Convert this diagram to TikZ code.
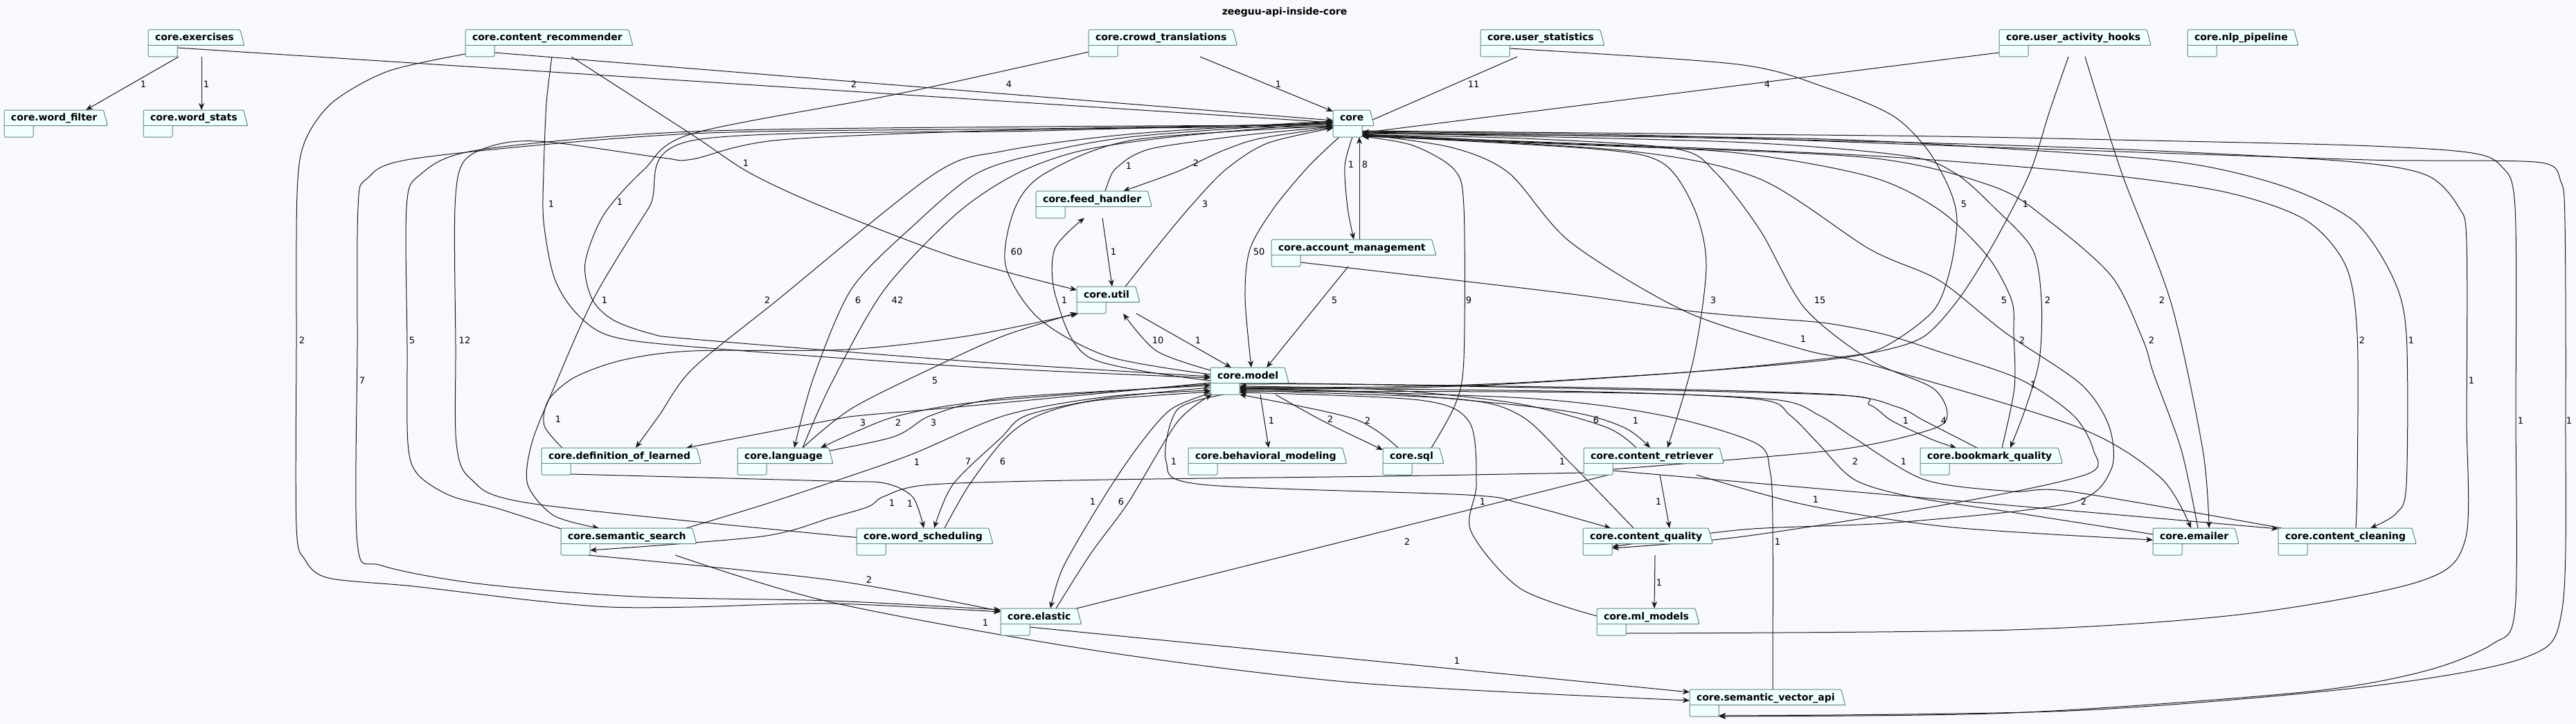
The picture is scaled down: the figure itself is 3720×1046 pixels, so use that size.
\documentclass[tikz,border=0pt]{standalone}
\usepackage{fontspec}
\setmainfont{DejaVu Sans}
\usetikzlibrary{calc,arrows.meta}
\pgfdeclarelayer{bgl}\pgfdeclarelayer{edgel}\pgfdeclarelayer{pkgl}
\pgfsetlayers{bgl,edgel,pkgl,main}
\definecolor{bgc}{RGB}{248,249,253}
\definecolor{pkfill}{RGB}{240,255,255}
\definecolor{pkline}{RGB}{105,130,130}
\definecolor{ec}{RGB}{24,24,24}
\newcommand{\pkgfnt}{\fontsize{14}{16}\selectfont\bfseries}
\newcommand{\lblfnt}{\fontsize{13}{15}\selectfont}
\newlength\pkgw
\tikzset{
 pkgbox/.style={rectangle,minimum height=39pt,inner sep=0pt,outer sep=0pt,draw=none},
 pkgtxt/.style={inner sep=0pt,outer sep=0pt,font=\pkgfnt,text=black},
 pkgline/.style={draw=pkline,fill=pkfill,line width=1pt,rounded corners=1.5pt},
 pkgsep/.style={draw=pkline,line width=1pt},
 dep/.style={draw=ec,line width=1pt,-{Stealth[length=10pt,width=8pt,inset=3pt]}},
 lbl/.style={inner sep=0pt,font=\lblfnt,text=black},
 ttl/.style={inner sep=0pt,font=\pkgfnt,text=black},
}
\newcommand{\pkgnode}[4]{%
 \settowidth{\pkgw}{\pkgfnt #4}%
 \addtolength{\pkgw}{42pt}%
 \node[pkgbox,minimum width=\pkgw,anchor=north west] (#1) at (#2,#3) {};
 \node[pkgtxt,anchor=base west] (#1-t) at ($(#1.north west)+(10,16)$) {#4};
 \begin{pgfonlayer}{pkgl}
 \draw[pkgline] (#1.north west) -- ($(#1-t.base east |- #1.north)+(9,0)$) -- ($(#1-t.base east |- #1.north)+(15,22.5)$) -- ($(#1.north east)+(0,22.5)$) -- (#1.south east) -- (#1.south west) -- cycle;
 \draw[pkgsep] ($(#1.north west)+(0,22.5)$) -- ($(#1-t.base east |- #1.north)+(15,22.5)$);
 \end{pgfonlayer}
}
\begin{document}
\begin{tikzpicture}[x=1pt,y=-1pt]
\begin{pgfonlayer}{bgl}
\fill[bgc] (0,0) rectangle (3720,1046);
\end{pgfonlayer}
\useasboundingbox (0,0) rectangle (3720,1046);
\node[ttl] (title) at (1855,18) {zeeguu-api-inside-core};
\pkgnode{ex}{214}{43}{core.exercises}
\pkgnode{wf}{6}{159}{core.word\_filter}
\pkgnode{wst}{207}{159}{core.word\_stats}
\pkgnode{crec}{672}{43}{core.content\_recommender}
\pkgnode{ctr}{1572}{43}{core.crowd\_translations}
\pkgnode{core}{1925}{159}{core}
\pkgnode{ust}{2138}{43}{core.user\_statistics}
\pkgnode{uah}{2887}{43}{core.user\_activity\_hooks}
\pkgnode{nlp}{3159}{43}{core.nlp\_pipeline}
\pkgnode{fh}{1496}{276}{core.feed\_handler}
\pkgnode{util}{1555}{414}{core.util}
\pkgnode{am}{1836}{346}{core.account\_management}
\pkgnode{model}{1748}{531}{core.model}
\pkgnode{dol}{782}{647}{core.definition\_of\_learned}
\pkgnode{lang}{1065}{647}{core.language}
\pkgnode{bm}{1716}{647}{core.behavioral\_modeling}
\pkgnode{sql}{1997}{647}{core.sql}
\pkgnode{ret}{2287}{647}{core.content\_retriever}
\pkgnode{bq}{2773}{647}{core.bookmark\_quality}
\pkgnode{ss}{810}{763}{core.semantic\_search}
\pkgnode{wsch}{1237}{763}{core.word\_scheduling}
\pkgnode{cq}{2286}{763}{core.content\_quality}
\pkgnode{em}{3109}{763}{core.emailer}
\pkgnode{cc}{3290}{763}{core.content\_cleaning}
\pkgnode{el}{1445}{879}{core.elastic}
\pkgnode{ml}{2306}{879}{core.ml\_models}
\pkgnode{sva}{2440}{996}{core.semantic\_vector\_api}

\begin{pgfonlayer}{edgel}
% top
\draw[dep] ($(ex.north west)+(44,39)$) -- ($(wf.north west)+(118,0)$);
\draw[dep] ($(ex.north west)+(77,39)$) -- ($(wst.north west)+(84,0)$);
\draw[dep] ($(ex.north east)+(0,26)$) -- ($(core.north west)+(0,18)$);
\draw[dep] ($(crec.north east)+(0,33)$) -- ($(core.north west)+(0,15)$);
\draw[dep] ($(ctr.north west)+(161,39)$) -- ($(core.north west)+(0,2)$);
\draw[dep] ($(ust.north west)+(53,39)$) -- ($(core.north east)+(-3,22)$);
\draw[dep] ($(uah.north west)+(0,33)$) -- ($(core.north east)+(0,33)$);
\draw[dep] plot[smooth,tension=.5] coordinates {($(ust.north east)+(0,27)$) (2510,93) (2638,127) (2733,167) (2784,217) (2816,275) (2826,320) (2816,390) (2791,450) (2717,503) (2638,520) (2446,537) (2191,553) (2000,559) ($(model.north east)+(0,29)$)};
\draw[dep] plot[smooth,tension=.5] coordinates {($(uah.north west)+(100,39)$) (2960,160) (2931,250) (2880,350) (2830,430) (2780,485) (2721,506) (2638,518) (2446,537) (2191,554) (2000,561) ($(model.north east)+(0,31)$)};
\draw[dep] plot[smooth,tension=.5] coordinates {($(crec.north west)+(125,39)$) (789,150) (785,250) (785,320) (800,400) (830,450) (880,485) (1000,501) (1400,530) ($(model.north west)+(0,15)$)};
\draw[dep] plot[smooth,tension=.5] coordinates {($(ctr.north west)+(0,32)$) (1300,135) (1000,193) (930,245) (872,310) (845,380) (855,432) (885,462) (940,482) (1000,490) (1400,522) ($(model.north west)+(0,13)$)};
\draw[dep] plot[smooth,tension=.5] coordinates {($(crec.north west)+(153,39)$) (1000,195) (1083,250) (1191,300) (1380,372) ($(util.north west)+(0,5)$)};
% left verticals
\draw[dep] plot[smooth,tension=.5] coordinates {($(crec.north west)+(0,35)$) (560,103) (480,148) (440,205) (429,280) (428,500) (428,760) (440,808) (474,835) (597,847) (765,867) (880,877) (1000,877) (1200,872) ($(el.north west)+(0,5)$)};
\draw[dep] plot[smooth,tension=.5] coordinates {($(core.north west)+(0,20)$) (1500,186) (1000,193) (606,228) (530,258) (517,300) (516,500) (516,785) (551,817) (689,843) (918,862) (1200,868) ($(el.north west)+(0,2)$)};
\draw[dep] plot[smooth,tension=.5] coordinates {($(ss.north west)+(0,1)$) (720,735) (650,716) (603,685) (589,640) (588,500) (587,300) (606,253) (689,217) (1000,190) (1500,183) ($(core.north west)+(0,22)$)};
\draw[dep] plot[smooth,tension=.5] coordinates {($(wsch.north west)+(0,12)$) (1200,773) (765,727) (680,692) (659,640) (658,500) (657,300) (670,233) (721,208) (791,205) (957,228) (1000,230) (1128,202) (1500,187) ($(core.north west)+(0,24)$)};
\draw[dep] plot[smooth,tension=.5] coordinates {($(core.north west)+(0,19)$) (1500,189) (1000,203) (937,300) (858,430) (800,560) (768,640) (762,700) (800,745) ($(ss.north west)+(55,0)$)};
\draw[dep] plot[smooth,tension=.5] coordinates {($(dol.north west)+(30,0)$) (786,615) (792,578) (830,545) (900,520) (1000,507) (1223,505) (1400,485) ($(util.north west)+(2,39)$)};
\draw[dep] plot[smooth,tension=.5] coordinates {($(core.north west)+(0,16)$) (1640,193) (1450,218) (1348,252) (1122,434) (1000,533) (952,600) ($(dol.north west)+(136,0)$)};
\draw[dep] plot[smooth,tension=.5] coordinates {($(core.north west)+(0,17)$) (1640,197) (1500,222) (1408,252) (1320,325) (1230,417) (1175,545) ($(lang.north west)+(82,0)$)};
\draw[dep] plot[smooth,tension=.5] coordinates {($(lang.north west)+(94,0)$) (1200,555) (1276,420) (1380,310) (1466,252) (1560,218) (1700,197) ($(core.north west)+(0,18)$)};
\draw[dep] plot[smooth,tension=.5] coordinates {($(model.north west)+(0,10)$) (1600,515) (1500,460) (1452,383) (1466,300) (1510,250) (1638,202) ($(core.north west)+(0,23)$)};
% center
\draw[dep] plot[smooth,tension=.5] coordinates {($(fh.north west)+(100,0)$) (1606,250) (1620,236) (1640,223) (1676,212) (1800,195) ($(core.north west)+(0,24)$)};
\draw[dep] plot[smooth,tension=.5] coordinates {($(core.north west)+(0,25)$) (1820,200) (1765,218) (1700,248) ($(fh.north west)+(126,0)$)};
\draw[dep] ($(fh.north west)+(96,39)$) -- ($(util.north west)+(51,0)$);
\draw[dep] plot[smooth,tension=.5] coordinates {($(util.north west)+(70,0)$) (1680,345) (1722,295) (1770,245) (1830,207) ($(core.north west)+(0,26)$)};
\draw[dep] plot[smooth,tension=.5] coordinates {($(core.north west)+(28,39)$) (1942,240) (1946,300) ($(am.north west)+(119,0)$)};
\draw[dep] ($(am.north west)+(127,0)$) -- ($(core.north west)+(38,39)$);
\draw[dep] plot[smooth,tension=.5] coordinates {($(core.north west)+(9,39)$) (1890,240) (1840,300) (1805,360) (1798,430) ($(model.north west)+(59,0)$)};
\draw[dep] ($(am.north west)+(111,39)$) -- ($(model.north west)+(81,0)$);
\draw[dep] ($(util.north west)+(86,39)$) -- ($(model.north west)+(30,0)$);
\draw[dep] plot[smooth,tension=.5] coordinates {($(model.north west)+(0,4)$) (1670,507) ($(util.north west)+(67,39)$)};
\draw[dep] plot[smooth,tension=.5] coordinates {($(model.north west)+(0,19)$) (1574,517) (1525,430) (1523,360) ($(fh.north west)+(70,39)$)};
\draw[dep] plot[smooth,tension=.5] coordinates {($(lang.north west)+(94,0)$) (1230,590) (1350,530) (1450,485) ($(util.north west)+(0,38)$)};
\draw[dep] plot[smooth,tension=.5] coordinates {($(model.north west)+(0,22)$) (1383,588) (1246,600) (1200,607) ($(dol.north west)+(209,0)$)};
\draw[dep] plot[smooth,tension=.5] coordinates {($(model.north west)+(0,24)$) (1420,580) (1300,600) (1240,622) ($(lang.north west)+(120,0)$)};
\draw[dep] plot[smooth,tension=.5] coordinates {($(lang.north east)+(0,21)$) (1284,633) (1345,600) (1450,575) ($(model.north west)+(0,26)$)};
\draw[dep] plot[smooth,tension=.5] coordinates {($(dol.north east)+(0,38)$) (1200,695) (1277,698) (1318,718) ($(wsch.north west)+(97,0)$)};
\draw[dep] plot[smooth,tension=.5] coordinates {($(ss.north west)+(181,0)$) (1100,730) (1200,697) (1315,657) (1452,600) (1600,573) ($(model.north west)+(0,33)$)};
\draw[dep] plot[smooth,tension=.5] coordinates {($(ret.north west)+(0,36)$) (2000,688) (1600,693) (1345,700) (1277,717) (1254,732) (1200,748) (1100,775) ($(ss.north east)+(0,32)$)};
\draw[dep] plot[smooth,tension=.5] coordinates {($(model.north west)+(0,29)$) (1600,575) (1483,600) (1445,633) (1376,700) ($(wsch.north west)+(112,0)$)};
\draw[dep] plot[smooth,tension=.5] coordinates {($(wsch.north west)+(127,0)$) (1400,700) (1452,633) (1500,600) (1580,579) ($(model.north west)+(0,35)$)};
\draw[dep] plot[smooth,tension=.5] coordinates {($(model.north west)+(0,37)$) (1690,592) (1640,650) (1590,725) (1535,820) ($(el.north west)+(72,0)$)};
\draw[dep] plot[smooth,tension=.5] coordinates {($(el.north west)+(80,0)$) (1575,800) (1630,725) (1700,610) ($(model.north west)+(2,39)$)};
\draw[dep] plot[smooth,tension=.5] coordinates {($(ss.north east)+(-3,39)$) (1200,838) ($(el.north west)+(0,4)$)};
\draw[dep] plot[smooth,tension=.5] coordinates {($(ss.north west)+(165,39)$) (1200,870) (1583,940) (1965,987) ($(sva.north west)+(0,16)$)};
\draw[dep] ($(el.north east)+(0,27)$) -- ($(sva.north west)+(0,4)$);
\draw[dep] ($(model.north west)+(72,39)$) -- ($(bm.north west)+(116,0)$);
\draw[dep] plot[smooth,tension=.5] coordinates {($(model.north west)+(94,39)$) (1910,608) ($(sql.north west)+(0,3)$)};
\draw[dep] plot[smooth,tension=.5] coordinates {($(sql.north west)+(22,0)$) (1955,605) ($(model.north east)+(0,39)$)};
\draw[dep] plot[smooth,tension=.5] coordinates {($(sql.north west)+(70,0)$) (2102,583) (2114,517) (2114,300) (2100,245) (2040,210) ($(core.north east)+(0,38)$)};
% right
\draw[dep] plot[smooth,tension=.5] coordinates {($(ret.north west)+(76,0)$) (2319,617) (2191,583) (2000,563) ($(model.north east)+(0,27)$)};
\draw[dep] plot[smooth,tension=.5] coordinates {($(model.north east)+(0,30)$) (2000,568) (2255,593) (2344,617) ($(ret.north west)+(96,0)$)};
\draw[dep] plot[smooth,tension=.5] coordinates {($(core.north east)+(0,37)$) (2300,215) (2400,235) (2446,300) (2464,383) (2446,517) ($(ret.north west)+(121,0)$)};
\draw[dep] plot[smooth,tension=.5] coordinates {($(ret.north east)+(0,31)$) (2652,650) (2790,620) (2812,597) (2790,560) (2700,520) (2606,445) (2542,333) (2478,250) (2420,215) (2200,200) ($(core.north east)+(0,36)$)};
\draw[dep] ($(ret.north west)+(110,39)$) -- ($(cq.north west)+(125,0)$);
\draw[dep] ($(ret.north west)+(36,39)$) -- ($(el.north east)+(0,17)$);
\draw[dep] plot[smooth,tension=.5] coordinates {($(ret.north west)+(163,39)$) (2610,730) (2821,762) ($(em.north west)+(0,17)$)};
\draw[dep] ($(ret.north east)+(0,33)$) -- ($(cc.north west)+(0,1)$);
\draw[dep] ($(cq.north west)+(104,39)$) -- ($(ml.north west)+(83,0)$);
\draw[dep] plot[smooth,tension=.5] coordinates {($(cq.north west)+(73,0)$) (2266,667) (2195,600) (2100,576) ($(model.north east)+(0,33)$)};
\draw[dep] plot[smooth,tension=.5] coordinates {($(model.north west)+(20,39)$) (1700,592) (1684,667) (1736,700) (2118,715) (2195,727) ($(cq.north west)+(40,0)$)};
\draw[dep] plot[smooth,tension=.5] coordinates {($(ml.north west)+(0,11)$) (2195,850) (2124,767) (2132,700) (2122,610) (2050,578) ($(model.north east)+(0,36)$)};
\draw[dep] plot[smooth,tension=.5] coordinates {($(ml.north east)+(0,36)$) (2905,910) (3242,887) (3494,840) (3560,780) (3562,600) (3562,350) (3551,300) (3504,253) (3387,233) (3093,217) (2800,207) (2400,198) ($(core.north east)+(0,32)$)};
\draw[dep] plot[smooth,tension=.5] coordinates {($(core.north east)+(0,30)$) (2400,193) (2800,197) (3100,203) (3400,210) (3563,220) (3612,240) (3632,300) (3633,600) (3632,880) (3600,930) (3500,970) (3326,1000) (2905,1030) ($(sva.north east)+(0,39)$)};
\draw[dep] plot[smooth,tension=.5] coordinates {($(core.north east)+(0,31)$) (2400,196) (2800,210) (3387,230) (3504,232) (3670,235) (3698,262) (3704,320) (3705,600) (3700,880) (3646,950) (3410,993) (2989,1027) ($(sva.north east)+(0,38)$)};
\draw[dep] plot[smooth,tension=.5] coordinates {($(sva.north west)+(120,0)$) (2560,760) (2556,680) (2535,640) (2400,600) (2200,575) ($(model.north east)+(0,31)$)};
\draw[dep] plot[smooth,tension=.5] coordinates {($(core.north east)+(0,34)$) (2600,200) (2900,215) (3152,235) (3300,270) (3400,320) (3455,400) (3475,483) (3475,700) (3460,742) ($(cc.north west)+(133,0)$)};
\draw[dep] plot[smooth,tension=.5] coordinates {($(cc.north west)+(112,0)$) (3404,700) (3404,483) (3387,383) (3328,317) (3211,277) (3017,250) (2700,225) (2300,208) ($(core.north east)+(0,37)$)};
\draw[dep] plot[smooth,tension=.5] coordinates {($(em.north west)+(0,9)$) (2905,740) (2762,718) (2678,693) (2625,640) (2585,600) (2540,577) (2300,566) ($(model.north east)+(0,29)$)};
\draw[dep] plot[smooth,tension=.5] coordinates {($(model.north east)+(0,24)$) (2000,556) (2638,570) (2700,585) (2732,608) (2790,635) ($(bq.north west)+(52,0)$)};
\draw[dep] plot[smooth,tension=.5] coordinates {($(bq.north west)+(82,0)$) (2779,608) (2740,588) (2650,570) (2300,560) ($(model.north east)+(0,22)$)};
\draw[dep] plot[smooth,tension=.5] coordinates {($(core.north east)+(0,33)$) (2500,205) (2750,225) (2823,250) (2880,300) (2935,360) (2948,434) (2945,520) (2925,590) ($(bq.north west)+(130,0)$)};
\draw[dep] plot[smooth,tension=.5] coordinates {($(bq.north west)+(118,0)$) (2909,560) (2908,483) (2905,434) (2870,370) (2800,303) (2700,255) (2500,220) (2200,205) ($(core.north east)+(0,35)$)};
\draw[dep] plot[smooth,tension=.5] coordinates {($(uah.north west)+(124,39)$) (3064,250) (3135,437) (3181,650) ($(em.north west)+(81,0)$)};
\draw[dep] plot[smooth,tension=.5] coordinates {($(em.north west)+(65,0)$) (3150,650) (3110,540) (3095,492) (3050,400) (2960,320) (2880,270) (2700,228) (2300,210) ($(core.north east)+(0,38)$)};
\draw[dep] plot[smooth,tension=.5] coordinates {($(core.north east)+(0,36)$) (2350,218) (2540,258) (2700,360) (2800,405) (2895,480) (3005,555) (3046,617) (3048,680) (2989,727) (2737,755) (2518,765) ($(cq.north east)+(0,27)$)};
\draw[dep] plot[smooth,tension=.5] coordinates {($(am.north east)+(0,33)$) (2255,423) (2446,450) (2555,460) (2638,467) (2721,483) (2800,508) (2917,548) (2994,600) (3023,650) (3014,685) (2821,727) (2518,775) ($(cq.north east)+(0,29)$)};
\draw[dep] plot[smooth,tension=.5] coordinates {($(core.north east)+(0,35)$) (2096,213) (2179,250) (2268,350) (2434,450) (2604,505) (2702,527) (3000,617) (3120,690) ($(em.north west)+(55,0)$)};
\draw[dep] plot[smooth,tension=.5] coordinates {($(cc.north west)+(5,0)$) (2989,710) (2905,710) (2779,693) (2678,633) (2627,600) (2560,577) (2300,567) ($(model.north east)+(0,34)$)};
\end{pgfonlayer}

% labels
\node[lbl] at (207,122) {1};
\node[lbl] at (298,122) {1};
\node[lbl] at (1233,122) {2};
\node[lbl] at (1457,122) {4};
\node[lbl] at (1846,122) {1};
\node[lbl] at (2128,122) {11};
\node[lbl] at (2552,122) {4};
\node[lbl] at (2836,295) {5};
\node[lbl] at (2925,295) {1};
\node[lbl] at (796,295) {1};
\node[lbl] at (895,292) {1};
\node[lbl] at (1077,236) {1};
\node[lbl] at (436,492) {2};
\node[lbl] at (523,550) {7};
\node[lbl] at (595,492) {5};
\node[lbl] at (671,492) {12};
\node[lbl] at (873,434) {1};
\node[lbl] at (806,606) {1};
\node[lbl] at (1108,434) {2};
\node[lbl] at (1239,434) {6};
\node[lbl] at (1296,434) {42};
\node[lbl] at (1468,364) {60};
\node[lbl] at (1630,240) {1};
\node[lbl] at (1727,236) {2};
\node[lbl] at (1608,364) {1};
\node[lbl] at (1740,295) {3};
\node[lbl] at (1951,238) {1};
\node[lbl] at (1971,238) {8};
\node[lbl] at (1818,364) {50};
\node[lbl] at (1927,434) {5};
\node[lbl] at (1730,492) {1};
\node[lbl] at (1672,492) {10};
\node[lbl] at (1537,434) {1};
\node[lbl] at (1350,550) {5};
\node[lbl] at (1246,611) {3};
\node[lbl] at (1297,611) {2};
\node[lbl] at (1348,611) {3};
\node[lbl] at (1314,728) {1};
\node[lbl] at (1324,668) {1};
\node[lbl] at (1288,727) {1};
\node[lbl] at (1398,667) {7};
\node[lbl] at (1448,667) {6};
\node[lbl] at (1578,725) {1};
\node[lbl] at (1619,725) {6};
\node[lbl] at (1255,838) {2};
\node[lbl] at (1423,900) {1};
\node[lbl] at (2104,955) {1};
\node[lbl] at (1836,608) {1};
\node[lbl] at (1921,606) {2};
\node[lbl] at (1975,608) {2};
\node[lbl] at (2121,434) {9};
\node[lbl] at (2305,607) {6};
\node[lbl] at (2362,608) {1};
\node[lbl] at (2474,434) {3};
\node[lbl] at (2628,434) {15};
\node[lbl] at (2395,725) {1};
\node[lbl] at (2032,783) {2};
\node[lbl] at (2622,722) {1};
\node[lbl] at (3009,725) {2};
\node[lbl] at (2396,842) {1};
\node[lbl] at (2256,667) {1};
\node[lbl] at (1695,667) {1};
\node[lbl] at (2141,725) {1};
\node[lbl] at (3569,550) {1};
\node[lbl] at (3640,608) {1};
\node[lbl] at (3710,608) {1};
\node[lbl] at (2567,783) {1};
\node[lbl] at (3482,492) {1};
\node[lbl] at (3411,492) {2};
\node[lbl] at (2679,667) {2};
\node[lbl] at (2752,608) {1};
\node[lbl] at (2807,608) {4};
\node[lbl] at (2957,434) {2};
\node[lbl] at (2894,434) {5};
\node[lbl] at (3122,434) {2};
\node[lbl] at (3107,492) {2};
\node[lbl] at (2920,492) {2};
\node[lbl] at (2936,556) {1};
\node[lbl] at (2604,490) {1};
\node[lbl] at (2749,667) {1};
\end{tikzpicture}
\end{document}
